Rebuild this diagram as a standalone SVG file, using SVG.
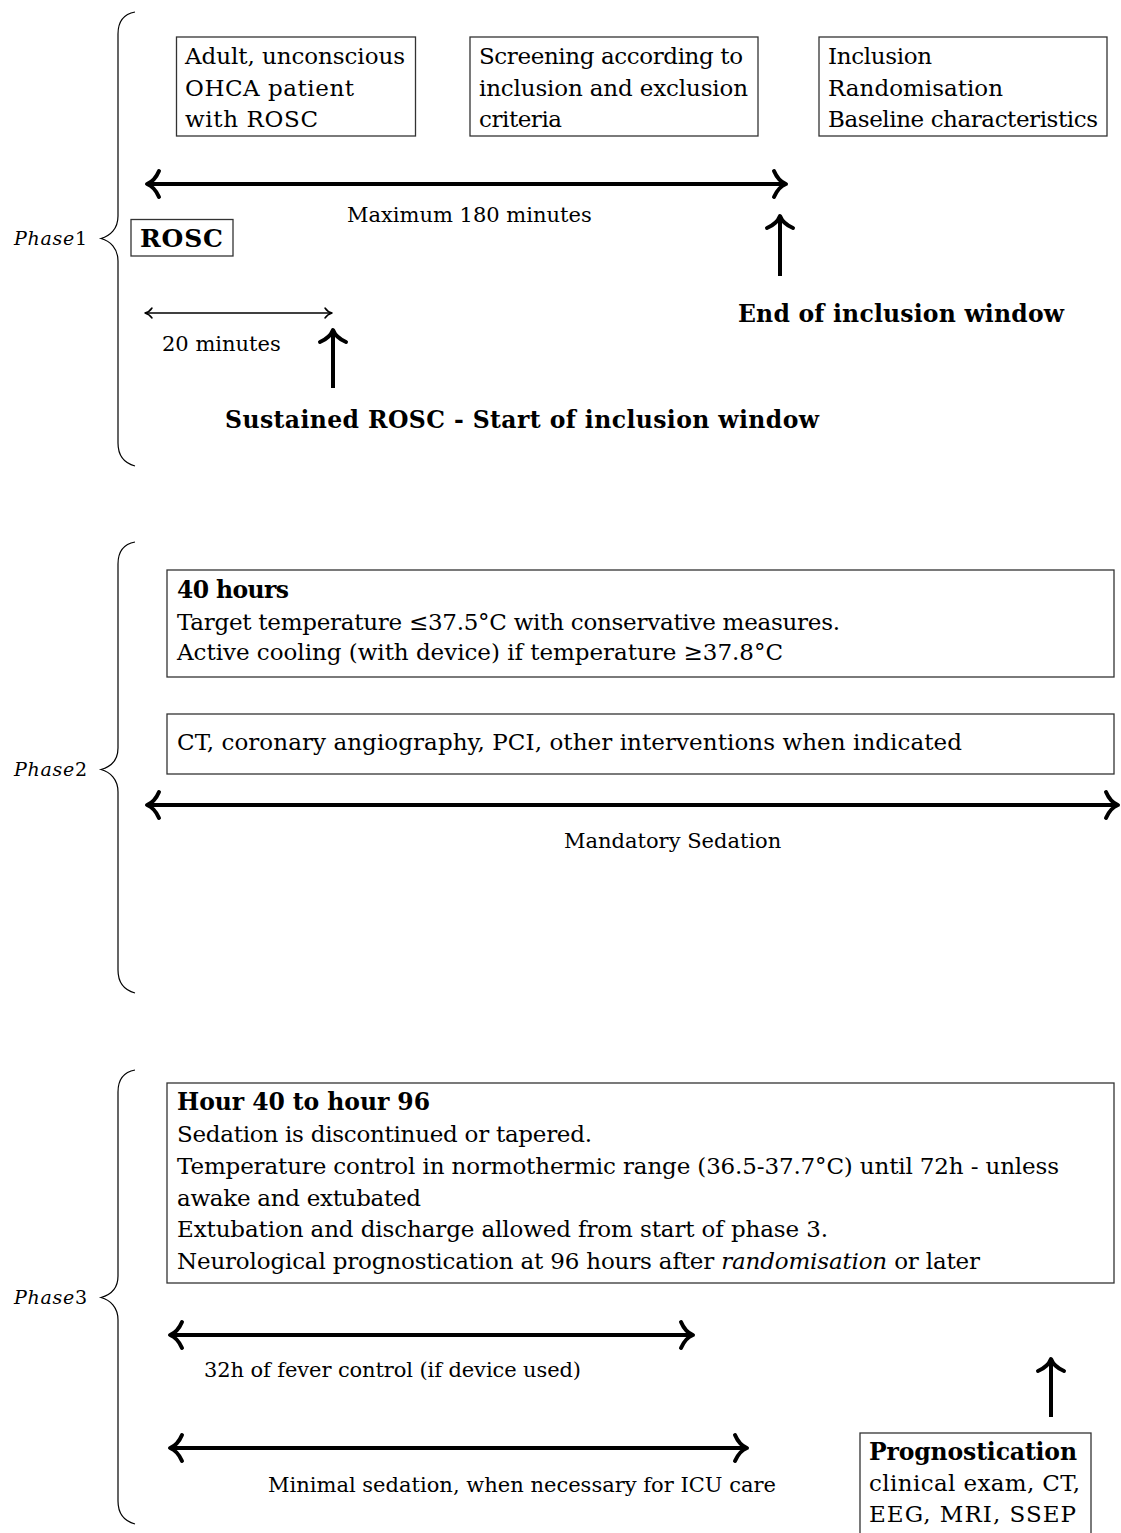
<svg xmlns="http://www.w3.org/2000/svg" width="1121" height="1533" viewBox="0 0 1121 1533">
<defs>
<style>
.t{font-family:"DejaVu Serif","Liberation Serif",serif;font-size:23px;fill:#000}
.s{font-family:"DejaVu Serif","Liberation Serif",serif;font-size:21px;fill:#000}
.b{font-family:"DejaVu Serif","Liberation Serif",serif;font-size:23.5px;font-weight:bold;fill:#000}
.ph{font-family:"DejaVu Serif","Liberation Serif",serif;font-size:19px;fill:#000}
.box{fill:#fff;stroke:#333;stroke-width:1.3}
.brace{fill:none;stroke:#000;stroke-width:1.2}
.thick{fill:none;stroke:#000;stroke-width:4}
.thin{fill:none;stroke:#000;stroke-width:1.5}
</style>
<marker id="h" markerUnits="userSpaceOnUse" viewBox="-16 -16 20 32" markerWidth="20" markerHeight="32" refX="0" refY="0" orient="auto-start-reverse" overflow="visible">
<path d="M-12,-13 C-9,-6 -4,-1.5 0,0 C-4,1.5 -9,6 -12,13" fill="none" stroke="#000" stroke-width="4" stroke-linecap="round" stroke-linejoin="round"/>
</marker>
<marker id="hs" markerUnits="userSpaceOnUse" viewBox="-10 -8 12 16" markerWidth="12" markerHeight="16" refX="0" refY="0" orient="auto-start-reverse" overflow="visible">
<path d="M-7,-5 C-5,-2 -2,-0.5 0,0 C-2,0.5 -5,2 -7,5" fill="none" stroke="#000" stroke-width="1.5" stroke-linecap="round" stroke-linejoin="round"/>
</marker>
</defs>
<rect width="1121" height="1533" fill="#fff"/>

<g id="braces">
<g id="phase1">
<path class="brace" d="M135,12 C124,14 118,22 118,34 L118,216 C118,229 110,236 101,238.5 C110,241 118,248 118,261 L118,443 C118,455 124,463 135,466"/>
<text class="ph" x="14" y="245" textLength="73"><tspan font-style="italic">Phase</tspan>1</text>
</g>
<g id="phase2">
<path class="brace" d="M135,542 C124,544 118,552 118,564 L118,748 C118,761 110,767 101,769.5 C110,772 118,779 118,792 L118,970 C118,982 124,990 135,993"/>
<text class="ph" x="14" y="776" textLength="73"><tspan font-style="italic">Phase</tspan>2</text>
</g>
<g id="phase3">
<path class="brace" d="M135,1070 C124,1072 118,1080 118,1092 L118,1276 C118,1289 110,1295 101,1297.5 C110,1300 118,1307 118,1320 L118,1501 C118,1513 124,1521 135,1524"/>
<text class="ph" x="14" y="1304" textLength="73"><tspan font-style="italic">Phase</tspan>3</text>
</g>
</g>

<g id="connectors">
<line class="thick" x1="147" y1="184" x2="786" y2="184" marker-start="url(#h)" marker-end="url(#h)"/>
<line class="thin" x1="145" y1="313" x2="332" y2="313" marker-start="url(#hs)" marker-end="url(#hs)"/>
<line class="thick" x1="780" y1="276" x2="780" y2="216" marker-end="url(#h)"/>
<line class="thick" x1="333" y1="388" x2="333" y2="330" marker-end="url(#h)"/>
<line class="thick" x1="147" y1="805" x2="1118" y2="805" marker-start="url(#h)" marker-end="url(#h)"/>
<line class="thick" x1="170" y1="1335" x2="693" y2="1335" marker-start="url(#h)" marker-end="url(#h)"/>
<line class="thick" x1="170" y1="1448" x2="747" y2="1448" marker-start="url(#h)" marker-end="url(#h)"/>
<line class="thick" x1="1051" y1="1417" x2="1051" y2="1359" marker-end="url(#h)"/>
</g>

<g id="labels">
<text class="s" x="347" y="222">Maximum 180 minutes</text>
<text class="s" x="162" y="351">20 minutes</text>
<text class="b" x="738" y="322" textLength="326">End of inclusion window</text>
<text class="b" x="225" y="428" textLength="594">Sustained ROSC - Start of inclusion window</text>
<text class="s" x="564" y="848">Mandatory Sedation</text>
<text class="s" x="204" y="1377" textLength="377">32h of fever control (if device used)</text>
<text class="s" x="268" y="1492" textLength="508">Minimal sedation, when necessary for ICU care</text>
</g>

<g id="n-patient">
<rect class="box" x="176.5" y="37" width="239" height="99"/>
<text class="t" x="185" y="64" textLength="220">Adult, unconscious</text>
<text class="t" x="185" y="96" textLength="169">OHCA patient</text>
<text class="t" x="185" y="127" textLength="133">with ROSC</text>
</g>
<g id="n-screening">
<rect class="box" x="470" y="37" width="288" height="99"/>
<text class="t" x="479" y="64" textLength="264">Screening according to</text>
<text class="t" x="479" y="96" textLength="269">inclusion and exclusion</text>
<text class="t" x="479" y="127" textLength="83">criteria</text>
</g>
<g id="n-inclusion">
<rect class="box" x="819" y="37" width="288" height="99"/>
<text class="t" x="828" y="64" textLength="104">Inclusion</text>
<text class="t" x="828" y="96" textLength="175">Randomisation</text>
<text class="t" x="828" y="127" textLength="270">Baseline characteristics</text>
</g>
<g id="n-rosc">
<rect class="box" x="131" y="219.5" width="102" height="36.5"/>
<text class="b" x="140" y="247" style="font-size:25px" textLength="83">ROSC</text>
</g>
<g id="n-40h">
<rect class="box" x="167" y="570" width="947" height="107"/>
<text class="b" x="177" y="598" textLength="112">40 hours</text>
<text class="t" x="177" y="630" textLength="663">Target temperature ≤37.5°C with conservative measures.</text>
<text class="t" x="177" y="660" textLength="606">Active cooling (with device) if temperature ≥37.8°C</text>
</g>
<g id="n-ct">
<rect class="box" x="167" y="714" width="947" height="60"/>
<text class="t" x="177" y="750" textLength="785">CT, coronary angiography, PCI, other interventions when indicated</text>
</g>
<g id="n-phase3">
<rect class="box" x="167" y="1083" width="947" height="200"/>
<text class="b" x="177" y="1110" textLength="253">Hour 40 to hour 96</text>
<text class="t" x="177" y="1142" textLength="415">Sedation is discontinued or tapered.</text>
<text class="t" x="177" y="1174" textLength="882">Temperature control in normothermic range (36.5-37.7°C) until 72h - unless</text>
<text class="t" x="177" y="1206" textLength="244">awake and extubated</text>
<text class="t" x="177" y="1237" textLength="651">Extubation and discharge allowed from start of phase 3.</text>
<text class="t" x="177" y="1269" textLength="803">Neurological prognostication at 96 hours after <tspan font-style="italic">randomisation</tspan> or later</text>
</g>
<g id="n-prognostication">
<rect class="box" x="860" y="1433" width="231" height="110"/>
<text class="b" x="869" y="1460" textLength="208">Prognostication</text>
<text class="t" x="869" y="1491" textLength="211">clinical exam, CT,</text>
<text class="t" x="869" y="1522" textLength="207">EEG, MRI, SSEP</text>
</g>
</svg>
